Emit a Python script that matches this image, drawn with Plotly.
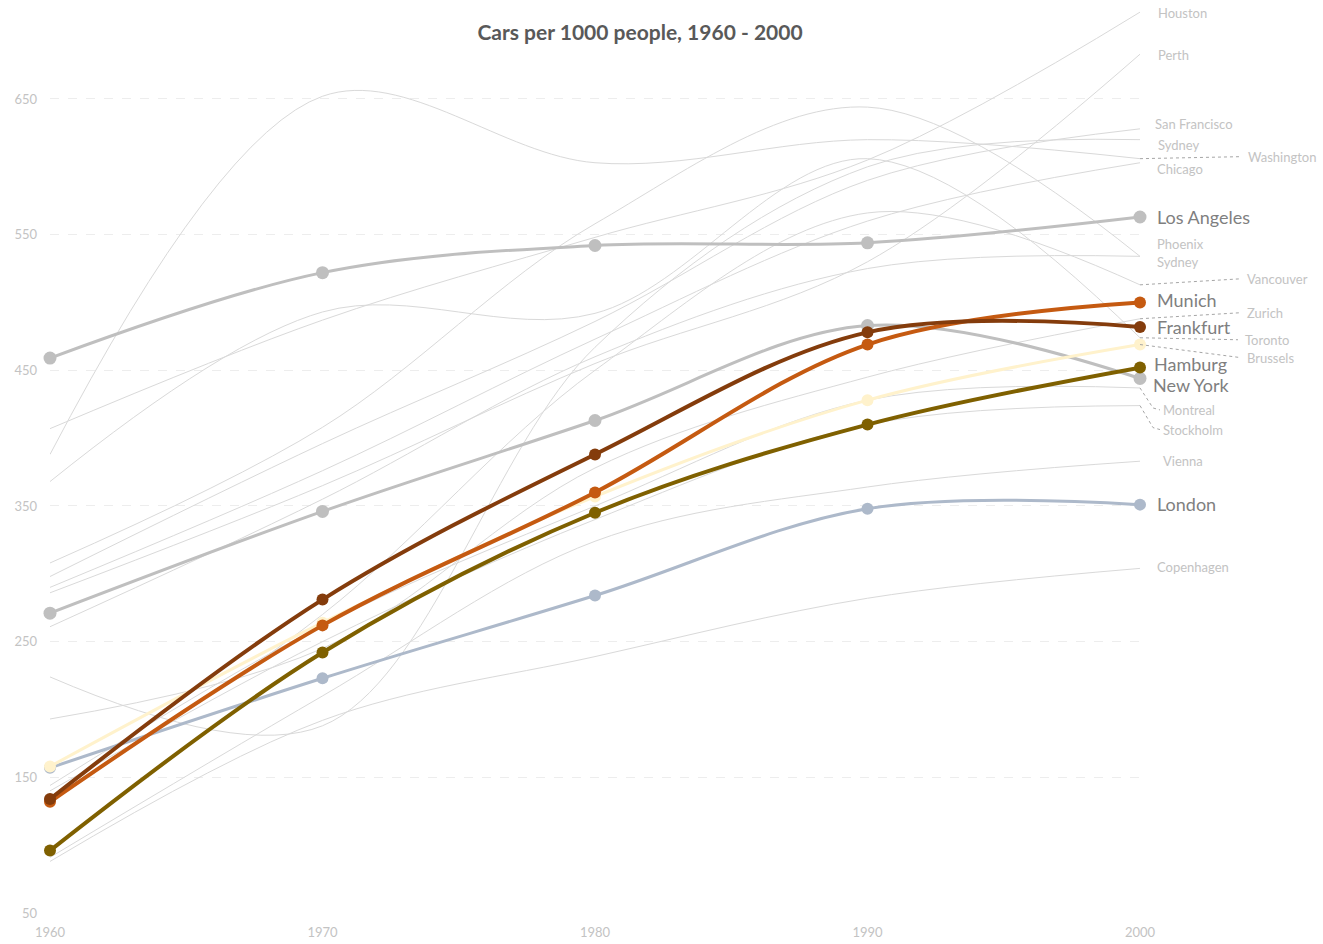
import plotly.graph_objects as go

# ---- data -------------------------------------------------------------
years = [1960, 1970, 1980, 1990, 2000]

# background cities (thin grey lines)
houston = [407, 487, 548, 605, 714]
perth = [286, 365, 455, 530, 683]
san_francisco = [298, 396, 486, 590, 628]
sydney = [224, 188, 467, 600, 620]
washington = [388, 652, 603, 620, 606]
chicago = [290, 376, 473, 560, 603]
phoenix = [308, 408, 558, 644, 534]
sydney_b = [261, 355, 460, 525, 534]
vancouver = [134, 270, 450, 566, 513]
zurich = [193, 245, 378, 445, 488]
toronto = [368, 493, 492, 606, 474]
montreal = [144, 262, 350, 428, 437]
stockholm = [140, 250, 340, 410, 424]
vienna = [91, 210, 324, 364, 383]
copenhagen = [88, 192, 239, 282, 304]

# highlighted cities
los_angeles = [459, 522, 542, 544, 563]
new_york = [271, 346, 413, 483, 444]
london = [157, 223, 284, 348, 351]
brussels = [158, 264, 357, 428, 469]
munich = [132, 262, 360, 469, 500]
frankfurt = [134, 281, 388, 478, 482]
hamburg = [96, 242, 345, 410, 452]

y_ticks = [50, 150, 250, 350, 450, 550, 650]
x_ticks = [1960, 1970, 1980, 1990, 2000]

# ---- styling ------------------------------------------------------------
FONT = "Lato"
THIN = "#d9d9d9"
Y_MIN, Y_MAX = 50, 720
W, H = 1323, 944
M_L, M_R, M_T, M_B = 50, 183, 4, 31
PLOT_W = W - M_L - M_R
PLOT_H = H - M_T - M_B

background = [
    ("Houston", houston), ("Perth", perth), ("San Francisco", san_francisco),
    ("Sydney", sydney), ("Washington", washington), ("Chicago", chicago),
    ("Phoenix", phoenix), ("Sydney", sydney_b), ("Vancouver", vancouver),
    ("Zurich", zurich), ("Toronto", toronto), ("Montreal", montreal),
    ("Stockholm", stockholm), ("Vienna", vienna), ("Copenhagen", copenhagen),
]

highlight = [
    ("Los Angeles", los_angeles, "#bfbfbf", 3, 13),
    ("New York", new_york, "#bfbfbf", 3, 13),
    ("London", london, "#adb9ca", 3, 12),
    ("Brussels", brussels, "#fff2cc", 3, 12),
    ("Munich", munich, "#c55a11", 4, 12),
    ("Frankfurt", frankfurt, "#843c0c", 4, 12),
    ("Hamburg", hamburg, "#7f6000", 4, 12),
]

fig = go.Figure()

for name, vals in background:
    fig.add_trace(go.Scatter(
        x=years, y=vals, mode="lines", name=name,
        line=dict(color=THIN, width=1, shape="spline"),
        hoverinfo="name+y", showlegend=False,
    ))

for name, vals, col, lw, ms in highlight:
    fig.add_trace(go.Scatter(
        x=years, y=vals, mode="lines+markers", name=name,
        line=dict(color=col, width=lw, shape="spline"),
        marker=dict(color=col, size=ms),
        cliponaxis=False, hoverinfo="name+y", showlegend=False,
    ))


def px_to_paper_x(px):
    return (px - M_L) / PLOT_W


def val_to_paper_y(v, shift=0):
    return (v - Y_MIN) / (Y_MAX - Y_MIN) + shift / PLOT_H


# end labels: (text, series, label left x in px, vertical shift px, big, leader)
labels = [
    ("Houston", houston, 1156, -1, False, None),
    ("Perth", perth, 1156, -1, False, None),
    ("San Francisco", san_francisco, 1153, 5, False, None),
    ("Sydney", sydney, 1156, -5, False, None),
    ("Washington", washington, 1246, 2, False, "flat"),
    ("Chicago", chicago, 1155, -6, False, None),
    ("Los Angeles", los_angeles, 1155, 0, True, None),
    ("Phoenix", phoenix, 1155, 12, False, None),
    ("Sydney", sydney_b, 1155, -6, False, None),
    ("Vancouver", vancouver, 1245, 6, False, "flat"),
    ("Munich", munich, 1155, 2, True, None),
    ("Zurich", zurich, 1245, 6, False, "flat"),
    ("Frankfurt", frankfurt, 1155, 0, True, None),
    ("Toronto", toronto, 1243, -2, False, "flat"),
    ("Brussels", brussels, 1245, -13, False, "flat"),
    ("Hamburg", hamburg, 1152, 4, True, None),
    ("New York", new_york, 1151, -7, True, None),
    ("Montreal", montreal, 1161, -22, False, "bent"),
    ("Stockholm", stockholm, 1161, -24, False, "bent"),
    ("Vienna", vienna, 1161, 0, False, None),
    ("London", london, 1155, 1, True, None),
    ("Copenhagen", copenhagen, 1155, 1, False, None),
]

annotations = []
shapes = []
x_end = px_to_paper_x(M_L + PLOT_W)
for text, vals, lx, shift, big, leader in labels:
    end = vals[-1]
    annotations.append(dict(
        text=text, xref="paper", yref="y", x=px_to_paper_x(lx), y=end,
        yshift=shift, xanchor="left", yanchor="middle", showarrow=False,
        font=dict(family=FONT, size=18 if big else 13,
                  color="#7f7f7f" if big else "#c3c3c3"),
    ))
    if leader == "flat":
        shapes.append(dict(
            type="line", xref="paper", yref="paper",
            x0=x_end, y0=val_to_paper_y(end),
            x1=px_to_paper_x(lx - 5), y1=val_to_paper_y(end, shift),
            line=dict(color="#a6a6a6", width=1, dash="dot"),
        ))
    elif leader == "bent":
        xa, ya = x_end, val_to_paper_y(end)
        xb, yb = px_to_paper_x(lx - 8), val_to_paper_y(end, shift + 2)
        xc, yc = px_to_paper_x(lx - 1), val_to_paper_y(end, shift)
        shapes.append(dict(
            type="path", xref="paper", yref="paper",
            path=f"M {xa},{ya} L {xb},{yb} L {xc},{yc}",
            line=dict(color="#a6a6a6", width=1, dash="dot"),
        ))

fig.update_layout(
    width=W, height=H,
    margin=dict(l=M_L, r=M_R, t=M_T, b=M_B),
    paper_bgcolor="white", plot_bgcolor="white",
    title=dict(
        text="<b>Cars per 1000 people, 1960 - 2000</b>",
        x=640 / W, xanchor="center", y=1 - 33 / H, yanchor="middle",
        font=dict(family=FONT, size=21, color="#595959"),
    ),
    xaxis=dict(
        range=[1960, 2000], tickvals=x_ticks, showgrid=False, zeroline=False,
        showline=False, ticks="", ticklabelstandoff=10,
        tickfont=dict(family=FONT, size=13, color="#c3c3c3"),
        fixedrange=True,
    ),
    yaxis=dict(
        range=[Y_MIN, Y_MAX], tickvals=y_ticks, showgrid=True, gridcolor="#ededed",
        griddash="dash", gridwidth=1, zeroline=False, showline=False, ticks="",
        ticklabelstandoff=12,
        tickfont=dict(family=FONT, size=13, color="#c3c3c3"), fixedrange=True,
    ),
    annotations=annotations,
    shapes=shapes,
    hovermode="closest",
)

fig.write_html("out.html")
